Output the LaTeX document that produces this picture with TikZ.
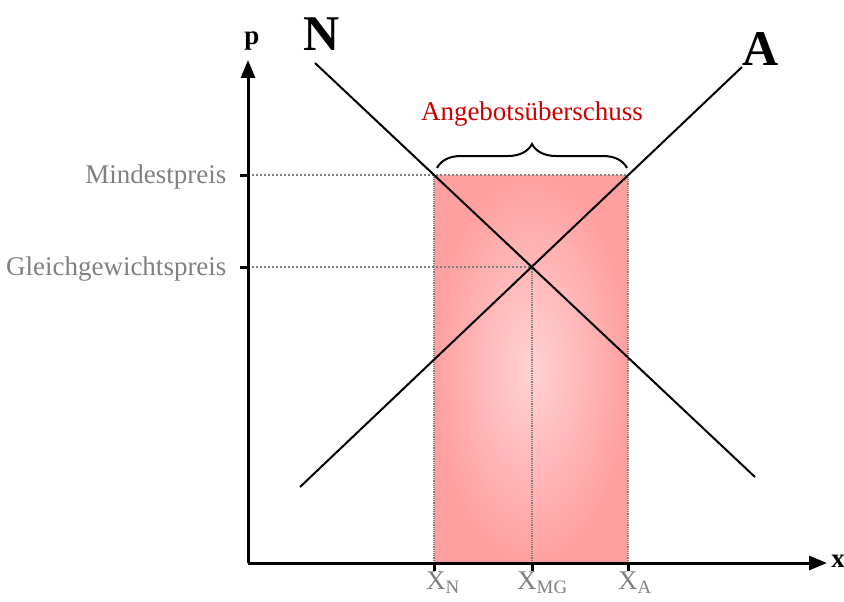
\documentclass[tikz,border=0pt]{standalone}
\usepackage{fontspec}
\setmainfont{Liberation Serif}
\usetikzlibrary{arrows.meta,decorations.pathreplacing}
\definecolor{grau}{RGB}{128,128,128}
\definecolor{rot}{RGB}{204,0,0}
\definecolor{rosa}{RGB}{255,160,160}
\definecolor{hellrosa}{RGB}{255,210,210}
\tikzset{
  achse/.style={line width=3pt,-{Triangle[length=18pt,width=14pt]}},
  kurve/.style={line width=2pt},
  hilfslinie/.style={grau,dotted,line width=2pt},
  schrift/.style={font=\fontsize{27}{31}\selectfont},
}

\begin{document}
\begin{tikzpicture}[x=1pt,y=-1pt]
  \useasboundingbox (0,0) rectangle (844,602);
  % Achsen und Preise
  \coordinate (O) at (248,563);
  \coordinate (ptip) at (248,60);
  \coordinate (xtip) at (827,563);
  \coordinate (pmin) at (248,175);
  \coordinate (pgg) at (248,267);
  \coordinate (xn) at (434,563);
  \coordinate (xmg) at (532,563);
  \coordinate (xa) at (628,563);
  \coordinate (R) at (628,175);
  \coordinate (L) at (434,175);
  \coordinate (GG) at (532,267);
  % Kurven
  \coordinate (N1) at (315,63);
  \coordinate (N2) at (755,477);
  \coordinate (A1) at (300,487);
  \coordinate (A2) at (742,67);

  \shade[inner color=hellrosa,outer color=rosa] (xn) rectangle (R);
  \draw[grau,densely dotted,line width=1.2pt] (xn) -- (L) (xa) -- (R) (xmg) -- (GG);
  \draw[hilfslinie] (pmin) -- (R);
  \draw[hilfslinie] (pgg) -- (GG);

  \draw[kurve] (N1) -- (N2);
  \draw[kurve] (A1) -- (A2);

  \draw[achse] (O) -- (ptip);
  \draw[achse] (O) -- (xtip);
  \foreach \p in {pmin,pgg}
    \draw[line width=3pt] (\p) -- ++(-8,0);
  \foreach \q in {xn,xmg,xa}
    \draw[line width=3pt] (\q) -- ++(0,8);

  \draw[line width=2pt,decorate,decoration={brace,amplitude=24pt}] (437,168) -- (627,168);
  \node[schrift,text=rot] (ueber) at (532,114) {Angebotsüberschuss};

  \node[schrift,text=grau,anchor=east] (mp) at (230,177) {Mindestpreis};
  \node[schrift,text=grau,anchor=east] (ggp) at (230,269) {Gleichgewichtspreis};
  \node[schrift,text=grau,anchor=north west,inner sep=0pt] (lxn) at (426,572) {X\textsubscript{N}};
  \node[schrift,text=grau,anchor=north west,inner sep=0pt] (lxmg) at (517,572) {X\textsubscript{MG}};
  \node[schrift,text=grau,anchor=north west,inner sep=0pt] (lxa) at (618,572) {X\textsubscript{A}};

  \node[schrift] (lp) at (252,41) {\textbf{p}};
  \node[schrift] (lx) at (838,561) {\textbf{x}};
  \node[font=\fontsize{50}{56}\selectfont\bfseries] (lN) at (322,34) {N};
  \node[font=\fontsize{50}{56}\selectfont\bfseries] (lA) at (761,49) {A};
\end{tikzpicture}
\end{document}
